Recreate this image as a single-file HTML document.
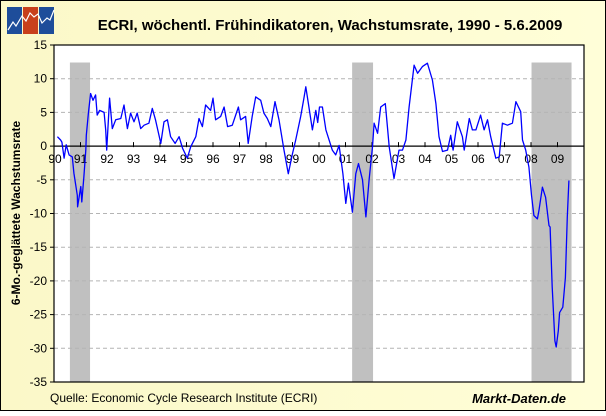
<!DOCTYPE html>
<html><head><meta charset="utf-8"><style>
body{margin:0;width:606px;height:411px;overflow:hidden;font-family:"Liberation Sans",sans-serif}
</style></head><body>
<svg width="606" height="411" xmlns="http://www.w3.org/2000/svg">
<defs><linearGradient id="bg" x1="0" x2="1" y1="0" y2="0"><stop offset="0" stop-color="#fbf8c8"/><stop offset="1" stop-color="#fffed8"/></linearGradient></defs>
<rect x="0.5" y="0.5" width="605" height="410" fill="url(#bg)" stroke="#000"/>
<g>
<rect x="7" y="7" width="15" height="27" fill="#1e4d9a"/><rect x="23" y="7" width="15" height="27" fill="#c8401c"/><rect x="39" y="7" width="15" height="27" fill="#1e4d9a"/>
<polyline points="8,30 13,22 16,26 22,16 26,21 30,13 34,17 38,14 42,23 47,18 50,20 54,10" fill="none" stroke="#fff" stroke-width="1.2"/>
</g>
<text x="330" y="30" text-anchor="middle" font-size="15" font-weight="bold">ECRI, wöchentl. Frühindikatoren, Wachstumsrate, 1990 - 5.6.2009</text>
<rect x="54" y="45" width="530" height="337" fill="#fff"/>
<g id="rec"></g><g id="grid"></g><g id="ticks"></g>
<path id="line" fill="none" stroke="#0000ff" stroke-width="1.3" stroke-linejoin="round"/>
<rect x="54" y="45" width="530" height="337" fill="none" stroke="#000" stroke-width="1.2"/>
<text transform="translate(20,213) rotate(-90)" text-anchor="middle" font-size="12" font-weight="bold">6-Mo.-geglättete Wachstumsrate</text>
<text x="50" y="402" font-size="12">Quelle: Economic Cycle Research Institute (ECRI)</text>
<text x="566" y="403" text-anchor="end" font-size="13" font-weight="bold" font-style="italic">Markt-Daten.de</text>
</svg>
<script>
const years=[1990.13,1990.25,1990.3,1990.38,1990.46,1990.57,1990.69,1990.75,1990.88,1990.89,1991.01,1991.05,1991.13,1991.2,1991.22,1991.3,1991.38,1991.47,1991.57,1991.63,1991.72,1991.89,1991.95,1991.99,1992.1,1992.2,1992.33,1992.52,1992.64,1992.77,1992.89,1993.02,1993.14,1993.27,1993.4,1993.58,1993.71,1993.83,1994.03,1994.15,1994.28,1994.4,1994.57,1994.72,1994.85,1995.03,1995.16,1995.35,1995.47,1995.6,1995.72,1995.91,1996.0,1996.1,1996.29,1996.42,1996.55,1996.73,1996.96,1997.04,1997.23,1997.33,1997.48,1997.61,1997.8,1997.92,1998.05,1998.18,1998.34,1998.49,1998.68,1998.84,1998.99,1999.12,1999.31,1999.43,1999.5,1999.6,1999.75,1999.88,1999.95,2000.02,2000.13,2000.26,2000.5,2000.63,2000.76,2000.9,2001.01,2001.11,2001.26,2001.39,2001.49,2001.64,2001.77,2001.89,2002.02,2002.08,2002.21,2002.33,2002.5,2002.58,2002.65,2002.83,2003.02,2003.15,2003.28,2003.4,2003.59,2003.72,2003.9,2004.09,2004.28,2004.41,2004.53,2004.66,2004.85,2004.97,2005.06,2005.22,2005.41,2005.48,2005.67,2005.79,2005.92,2006.1,2006.23,2006.36,2006.48,2006.67,2006.8,2006.92,2007.11,2007.3,2007.43,2007.61,2007.68,2007.8,2007.92,2008.02,2008.11,2008.24,2008.3,2008.43,2008.55,2008.68,2008.72,2008.8,2008.9,2008.95,2009.03,2009.08,2009.2,2009.3,2009.37,2009.43];
const values=[1.4,0.9,0.6,-1.8,0.2,-1.3,-1.6,-4,-7.3,-9,-6,-8.3,-4.5,-0.6,1.6,4.9,7.8,6.8,7.6,4.6,5.3,5,2.4,-0.6,7.1,2.6,3.9,4.1,6.1,2.6,4.9,3.6,4.9,2.6,3.1,3.4,5.6,3.9,0.4,3.6,3.9,1.4,0.4,1.4,-0.3,-1.8,-0.1,1.4,4.1,2.9,6.1,5.3,7.1,3.9,4.4,5.8,2.9,3.1,5.8,3.9,4.4,0.4,4.4,7.3,6.8,4.9,4.1,2.9,6.6,3.9,-0.6,-4.1,-1.3,0.9,4.4,7.1,8.8,6.3,2.4,5.3,3.5,5.8,5.8,2.4,-0.6,-1.3,0.1,-4.1,-8.5,-5.5,-9.8,-4.1,-2.6,-5,-10.5,-5,-0.1,3.4,1.9,5.8,6.3,2.9,-0.1,-4.8,-0.6,-0.6,0.9,5.8,12,10.8,11.8,12.3,9.8,6.3,1.4,-0.8,-0.6,1.6,-0.6,3.6,1.4,-0.6,4.1,2.4,2.4,4.6,2.4,3.9,1.4,-1.8,-1.6,3.4,3.1,3.4,6.6,5.1,0.9,-0.6,-3.1,-7.3,-10.3,-10.8,-9.6,-6.1,-7.6,-11.8,-12,-20.9,-28.9,-29.8,-27.4,-24.7,-23.9,-19.5,-10.5,-5.1];
const recStart=[1990.6,2001.25,2008.02];
const recEnd=[1991.36,2002.04,2009.53];
const yTicks=[15,10,5,0,-5,-10,-15,-20,-25,-30,-35];
const xLabels=["90","91","92","93","94","95","96","97","98","99","00","01","02","03","04","05","06","07","08","09"];
const NS="http://www.w3.org/2000/svg";
const X=y=>54+26.5*(y-1990);
const Y=v=>45+(15-v)*(337/50);
function mk(tag,attrs,parent){const e=document.createElementNS(NS,tag);for(const k in attrs)e.setAttribute(k,attrs[k]);document.getElementById(parent).appendChild(e);return e;}
recStart.forEach((s,i)=>{const r=mk('rect',{x:X(s),y:Y(12.4),width:X(recEnd[i])-X(s),height:382-Y(12.4),fill:'#c0c0c0'},'rec');

});
yTicks.forEach(v=>{
 if(v!==15&&v!==-35&&v!==0){const l=mk('line',{x1:54,x2:584,y1:Y(v),y2:Y(v),stroke:'#b4b4b4','stroke-dasharray':'4,3'},'grid');
 
 }
 const tk=mk('line',{x1:50,x2:54,y1:Y(v),y2:Y(v),stroke:'#000'},'ticks');
 
 
 const t=mk('text',{x:47,y:Y(v)+4,'text-anchor':'end','font-size':12},'ticks');t.textContent=v;
 
 
});
const z=mk('line',{x1:54,x2:584,y1:Y(0),y2:Y(0),stroke:'#000','stroke-width':1.3},'ticks');


xLabels.forEach((s,i)=>{const x=X(1990+i);
 const tk=mk('line',{x1:x,x2:x,y1:Y(0)-4,y2:Y(0)+1,stroke:'#000'},'ticks');
 
 
 const t=mk('text',{x:x+(i===0?1:0),y:Y(0)+17,'text-anchor':'middle','font-size':12},'ticks');t.textContent=s;
 
 });
document.getElementById('line').setAttribute('d',years.map((y,i)=>(i?'L':'M')+X(y).toFixed(1)+','+Y(values[i]).toFixed(1)).join(''));
</script>
</body></html>
